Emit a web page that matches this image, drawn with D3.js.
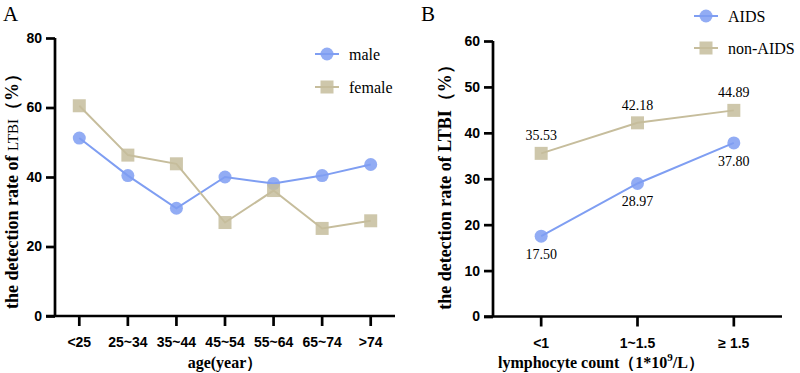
<!DOCTYPE html>
<html>
<head>
<meta charset="utf-8">
<script src="https://cdn.jsdelivr.net/npm/d3@7"></script>
<style>
  body { margin: 0; background: #fff; }
</style>
</head>
<body>
<div id="chart"></div>
<script>
// panel A data
let ageGroups = ['<25', '25~34', '35~44', '45~54', '55~64', '65~74', '>74'];
let maleRate = [51.2, 40.4, 31.0, 40.0, 38.1, 40.4, 43.6];
let femaleRate = [60.5, 46.3, 43.8, 26.9, 36.1, 25.2, 27.4];
let ageTicks = [0, 20, 40, 60, 80];

// panel B data
let lymphGroups = ['<1', '1~1.5', '≥ 1.5'];
let aidsRate = [17.50, 28.97, 37.80];
let nonAidsRate = [35.53, 42.18, 44.89];
let lymphTicks = [0, 10, 20, 30, 40, 50, 60];

let blue = '#7f9ef2';
let tan = '#c6bd9c';
let serif = '"Liberation Serif", "Times New Roman", serif';
let sans = '"Liberation Sans", Arial, sans-serif';

let svg = d3.select('#chart').append('svg')
  .attr('width', 800)
  .attr('height', 373);

function drawPanel(opts) {
  let x = d3.scaleBand()
    .domain(opts.cats)
    .range([opts.left, opts.right])
    .padding(0);
  let y = d3.scaleLinear()
    .domain(opts.yDomain)
    .range([opts.bottom, opts.top]);

  let g = svg.append('g');

  // axes
  let xAxis = g.append('g')
    .attr('transform', `translate(0, ${opts.bottom})`)
    .call(d3.axisBottom(x).tickSize(10).tickPadding(7));
  let yAxis = g.append('g')
    .attr('transform', `translate(${opts.left}, 0)`)
    .call(d3.axisLeft(y).tickValues(opts.yTicks).tickSize(9).tickPadding(4));

  [xAxis, yAxis].forEach(a => {
    a.attr('font-family', sans).attr('font-size', 14).attr('font-weight', 'bold');
    a.select('.domain').attr('stroke', '#000').attr('stroke-width', 2.7);
    a.selectAll('.tick line').attr('stroke', '#000').attr('stroke-width', 2.7);
    a.selectAll('.tick text').attr('fill', '#000');
  });
  // axis lines without end caps
  xAxis.select('.domain').attr('d', `M${opts.left - 9},0H${opts.right}`);
  yAxis.select('.domain').attr('d', `M0,${y(opts.yDomain[1])}V${opts.bottom}`);
  xAxis.selectAll('.tick text').attr('dy', '1em');

  // lines and markers
  opts.series.forEach(s => {
    let line = d3.line()
      .x((d, i) => x(opts.cats[i]) + x.bandwidth() / 2)
      .y(d => y(d));
    g.append('path')
      .datum(s.values)
      .attr('fill', 'none')
      .attr('stroke', s.color)
      .attr('stroke-width', 2)
      .attr('d', line);

    let pts = g.selectAll(null)
      .data(s.values)
      .enter();
    if (s.shape === 'circle') {
      pts.append('circle')
        .attr('cx', (d, i) => x(opts.cats[i]) + x.bandwidth() / 2)
        .attr('cy', d => y(d))
        .attr('r', 6.5)
        .attr('fill', s.color)
        .attr('opacity', 0.85);
    } else {
      pts.append('rect')
        .attr('x', (d, i) => x(opts.cats[i]) + x.bandwidth() / 2 - 6.5)
        .attr('y', d => y(d) - 6.5)
        .attr('width', 13)
        .attr('height', 13)
        .attr('fill', s.color)
        .attr('opacity', 0.85);
    }
    if (s.labels) {
      g.selectAll(null)
        .data(s.values)
        .enter()
        .append('text')
        .attr('font-family', serif)
        .attr('x', (d, i) => x(opts.cats[i]) + x.bandwidth() / 2)
        .attr('y', d => y(d) + s.labelOffset)
        .attr('text-anchor', 'middle')
        .attr('font-size', '14px')
        .text(d => d.toFixed(2));
    }
  });

  // legend
  opts.series.forEach((s, i) => {
    let ly = opts.legendY + i * opts.legendGap;
    let lx = opts.legendX;
    g.append('line')
      .attr('x1', lx - 12).attr('x2', lx + 12)
      .attr('y1', ly).attr('y2', ly)
      .attr('stroke', s.color).attr('stroke-width', 2);
    if (s.shape === 'circle') {
      g.append('circle').attr('cx', lx).attr('cy', ly).attr('r', 6.5)
        .attr('fill', s.color).attr('opacity', 0.85);
    } else {
      g.append('rect').attr('x', lx - 6.5).attr('y', ly - 6.5)
        .attr('width', 13).attr('height', 13)
        .attr('fill', s.color).attr('opacity', 0.85);
    }
    g.append('text')
      .attr('font-family', serif)
      .attr('x', lx + 22)
      .attr('y', ly)
      .attr('dy', '0.35em')
      .attr('font-size', '16px')
      .text(s.name);
  });

  // panel letter
  g.append('text')
    .attr('font-family', serif)
    .attr('x', opts.letterX)
    .attr('y', 21)
    .attr('font-size', '21px')
    .text(opts.letter);

  // y label
  let yl = g.append('text')
    .attr('font-family', serif)
    .attr('transform', `translate(${opts.yLabelX}, ${opts.yLabelY}) rotate(-90)`)
    .attr('text-anchor', 'middle')
    .attr('font-weight', 'bold')
    .attr('font-size', opts.yLabelSize);
  yl.append('tspan').text('the detection rate of ');
  yl.append('tspan').attr('font-size', opts.ltbiSize).attr('font-weight', opts.ltbiWeight).text('LTBI');
  yl.append('tspan').text('（%）');

  // x label
  let xl = g.append('text')
    .attr('font-family', serif)
    .attr('x', opts.xLabelX)
    .attr('y', 368)
    .attr('text-anchor', 'middle')
    .attr('font-weight', 'bold')
    .attr('font-size', '16px');
  opts.xLabel(xl);
}

drawPanel({
  cats: ageGroups,
  yDomain: [0, 80],
  yTicks: ageTicks,
  left: 55, right: 395, top: 38, bottom: 316,
  series: [
    { name: 'male', values: maleRate, color: blue, shape: 'circle' },
    { name: 'female', values: femaleRate, color: tan, shape: 'square' }
  ],
  legendX: 327, legendY: 54, legendGap: 33,
  letter: 'A', letterX: 3,
  yLabelX: 18, yLabelY: 187, yLabelSize: '18px', ltbiSize: '15px', ltbiWeight: 'normal',
  xLabelX: 225,
  xLabel: t => t.text('age(year）')
});

drawPanel({
  cats: lymphGroups,
  yDomain: [0, 60],
  yTicks: lymphTicks,
  left: 493, right: 782, top: 41, bottom: 316.5,
  series: [
    { name: 'AIDS', values: aidsRate, color: blue, shape: 'circle', labels: true, labelOffset: 23 },
    { name: 'non-AIDS', values: nonAidsRate, color: tan, shape: 'square', labels: true, labelOffset: -13 }
  ],
  legendX: 706, legendY: 16, legendGap: 32,
  letter: 'B', letterX: 421,
  yLabelX: 451, yLabelY: 183, yLabelSize: '18px', ltbiSize: '18px', ltbiWeight: 'bold',
  xLabelX: 601,
  xLabel: t => {
    t.append('tspan').text('lymphocyte count（1*10');
    t.append('tspan').attr('dy', -7).attr('font-size', '11px').text('9');
    t.append('tspan').attr('dy', 7).text('/L）');
  }
});
</script>
</body>
</html>
